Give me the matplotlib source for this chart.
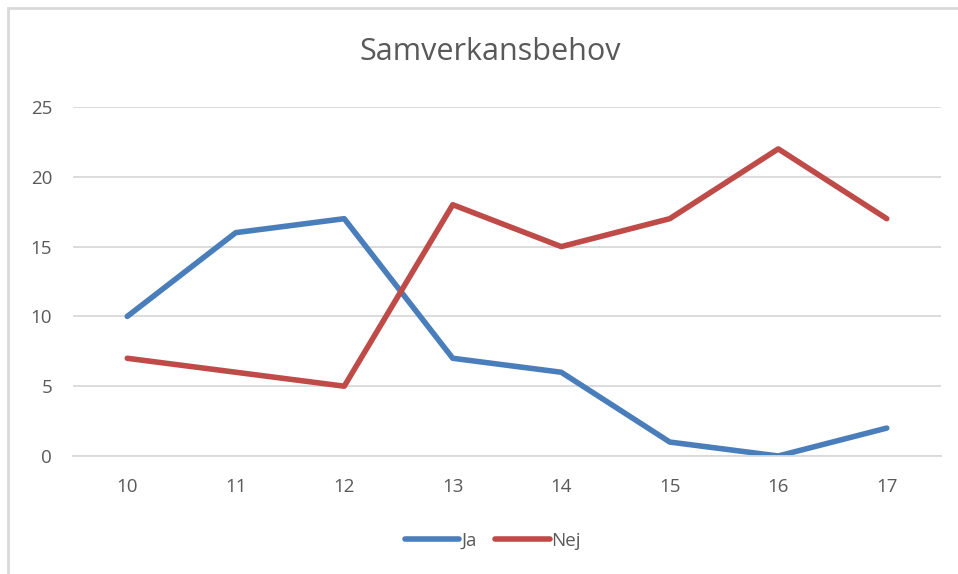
import matplotlib.pyplot as plt
from matplotlib.patches import Rectangle

# Chart data
categories = ['10', '11', '12', '13', '14', '15', '16', '17']
ja = [10, 16, 17, 7, 6, 1, 0, 2]
nej = [7, 6, 5, 18, 15, 17, 22, 17]
yticks = [0, 5, 10, 15, 20, 25]

plt.rcParams['font.family'] = ['Open Sans', 'DejaVu Sans']

W, H = 958, 574
fig = plt.figure(figsize=(W / 100, H / 100), dpi=100)

# Light border of the chart area (only top and left are visible)
fig.patches.append(Rectangle((8 / W, -0.1), 1.2, (574 - 8) / H + 0.1,
                             transform=fig.transFigure, fill=False,
                             edgecolor='#d9d9d9', linewidth=2))

ax = fig.add_axes([73 / W, 118 / H, (941 - 73) / W, (456 - 107) / H])
x = range(len(categories))
ax.plot(x, ja, color='#4a7ebb', linewidth=4, solid_capstyle='round',
        solid_joinstyle='round', label='Ja')
ax.plot(x, nej, color='#be4b48', linewidth=4, solid_capstyle='round',
        solid_joinstyle='round', label='Nej')

ax.set_xlim(-0.5, len(categories) - 0.5)
ax.set_ylim(0, 25)
ax.set_yticks(yticks)
ax.set_xticks(list(x))
ax.set_xticklabels(categories)
ax.grid(axis='y', color='#d9d9d9', linewidth=1.3)
ax.set_axisbelow(True)
for s in ['top', 'right', 'left']:
    ax.spines[s].set_visible(False)
ax.spines['bottom'].set_color('#d9d9d9')
ax.spines['bottom'].set_linewidth(1.3)
ax.tick_params(length=0, labelsize=13.5, colors='#595959')
ax.tick_params(axis='x', pad=16)
ax.tick_params(axis='y', pad=15)

fig.text(490 / W, 1 - 52 / H, 'Samverkansbehov', ha='center', va='center',
         fontsize=22, color='#595959')

fig.legend(loc='center', bbox_to_anchor=(493 / W, 1 - 541 / H), ncol=2,
           frameon=False, fontsize=13.5, labelcolor='#595959',
           handlelength=2.9, handletextpad=0.1, columnspacing=1.0)

fig.savefig('out.png', dpi=100)
